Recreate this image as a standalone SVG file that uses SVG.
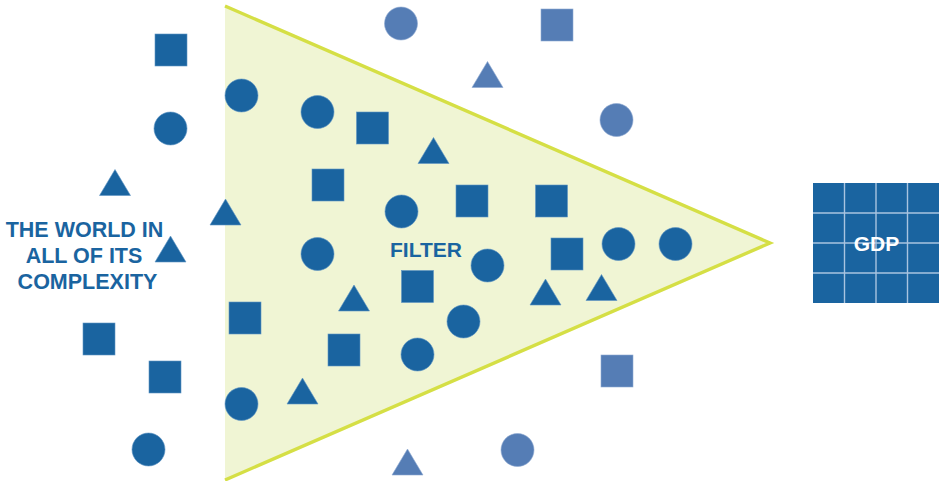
<svg xmlns="http://www.w3.org/2000/svg" width="943" height="481" viewBox="0 0 943 481">
  <defs>
    <style>
      .dk { fill: #1a64a0; stroke: #5f95c4; stroke-width: 0.6; }
      .lt { fill: #557db5; stroke: #8eaad2; stroke-width: 0.6; }
      .lbl { font-family: "Liberation Sans", Arial, sans-serif; font-weight: bold; fill: #1a64a0; }
      .grid { stroke: #a9c4e0; stroke-width: 1.4; fill: none; }
    </style>
    <rect id="sq" width="32" height="32"/>
    <circle id="ci" r="16.5"/>
    <polygon id="tr" points="0,-13 15.5,13 -15.5,13"/>
  </defs>

  <rect width="943" height="481" fill="#ffffff"/>

  <!-- filter funnel -->
  <g id="filter">
    <polygon points="225,6 770,243 225,480" fill="#f0f5d4" stroke="none"/>
    <polyline points="225,6 770,243 225,480" fill="none" stroke="#d5df45" stroke-width="3.4" stroke-linejoin="miter"/>
    <text class="lbl" x="390" y="257" font-size="21">FILTER</text>
  </g>

  <!-- the world outside the filter: dark shapes -->
  <g id="world-shapes">
    <use href="#sq" class="dk" x="155" y="34"/>
    <use href="#ci" class="dk" x="170.5" y="128.5"/>
    <use href="#tr" class="dk" x="115" y="182.5"/>
    <use href="#tr" class="dk" x="225.5" y="212"/>
    <use href="#tr" class="dk" x="170.5" y="249"/>
    <use href="#sq" class="dk" x="83" y="323"/>
    <use href="#sq" class="dk" x="149" y="361"/>
    <use href="#ci" class="dk" x="148.5" y="449.5"/>
  </g>

  <!-- shapes inside the filter -->
  <g id="inside-shapes">
    <use href="#ci" class="dk" x="241.5" y="95.5"/>
    <use href="#ci" class="dk" x="317.5" y="112"/>
    <use href="#sq" class="dk" x="356.5" y="112"/>
    <use href="#tr" class="dk" x="433.5" y="150.5"/>
    <use href="#sq" class="dk" x="312" y="169"/>
    <use href="#ci" class="dk" x="401.5" y="211.5"/>
    <use href="#sq" class="dk" x="456" y="185"/>
    <use href="#sq" class="dk" x="535.5" y="185"/>
    <use href="#sq" class="dk" x="551" y="238"/>
    <use href="#ci" class="dk" x="618.5" y="244"/>
    <use href="#ci" class="dk" x="675.5" y="244"/>
    <use href="#ci" class="dk" x="487.5" y="265.5"/>
    <use href="#ci" class="dk" x="317.5" y="254"/>
    <use href="#tr" class="dk" x="545.5" y="292"/>
    <use href="#tr" class="dk" x="601.5" y="287.5"/>
    <use href="#sq" class="dk" x="401.5" y="270.5"/>
    <use href="#tr" class="dk" x="354" y="298"/>
    <use href="#sq" class="dk" x="229" y="302"/>
    <use href="#ci" class="dk" x="463.5" y="321.5"/>
    <use href="#sq" class="dk" x="328" y="334"/>
    <use href="#ci" class="dk" x="417.5" y="354.5"/>
    <use href="#tr" class="dk" x="302.5" y="391"/>
    <use href="#ci" class="dk" x="241.5" y="404"/>
  </g>

  <!-- shapes rejected by the filter: light shapes -->
  <g id="rejected-shapes">
    <use href="#ci" class="lt" x="401" y="23.5"/>
    <use href="#sq" class="lt" x="541" y="9"/>
    <use href="#tr" class="lt" x="487.5" y="74.5"/>
    <use href="#ci" class="lt" x="616.5" y="120"/>
    <use href="#sq" class="lt" x="601" y="355"/>
    <use href="#ci" class="lt" x="517.5" y="450"/>
    <use href="#tr" class="lt" x="407.5" y="462"/>
  </g>

  <!-- left label -->
  <g id="world-label">
    <text class="lbl" font-size="21.5" text-anchor="middle">
      <tspan x="87.5" y="237">THE WORLD IN</tspan>
      <tspan x="87" y="263">ALL OF ITS</tspan>
      <tspan x="87.5" y="289">COMPLEXITY</tspan>
    </text>
  </g>

  <!-- connectors: none drawn -->
  <g id="connectors"/>

  <!-- GDP grid -->
  <g id="gdp">
    <rect x="813" y="183" width="126" height="120" fill="#1a64a0"/>
    <path class="grid" d="M844.5,183V303M876,183V303M907.5,183V303M813,213H939M813,243H939M813,273H939"/>
    <text x="876.5" y="251" font-size="21" text-anchor="middle" font-family="Liberation Sans, Arial, sans-serif" font-weight="bold" fill="#ffffff">GDP</text>
  </g>
</svg>
